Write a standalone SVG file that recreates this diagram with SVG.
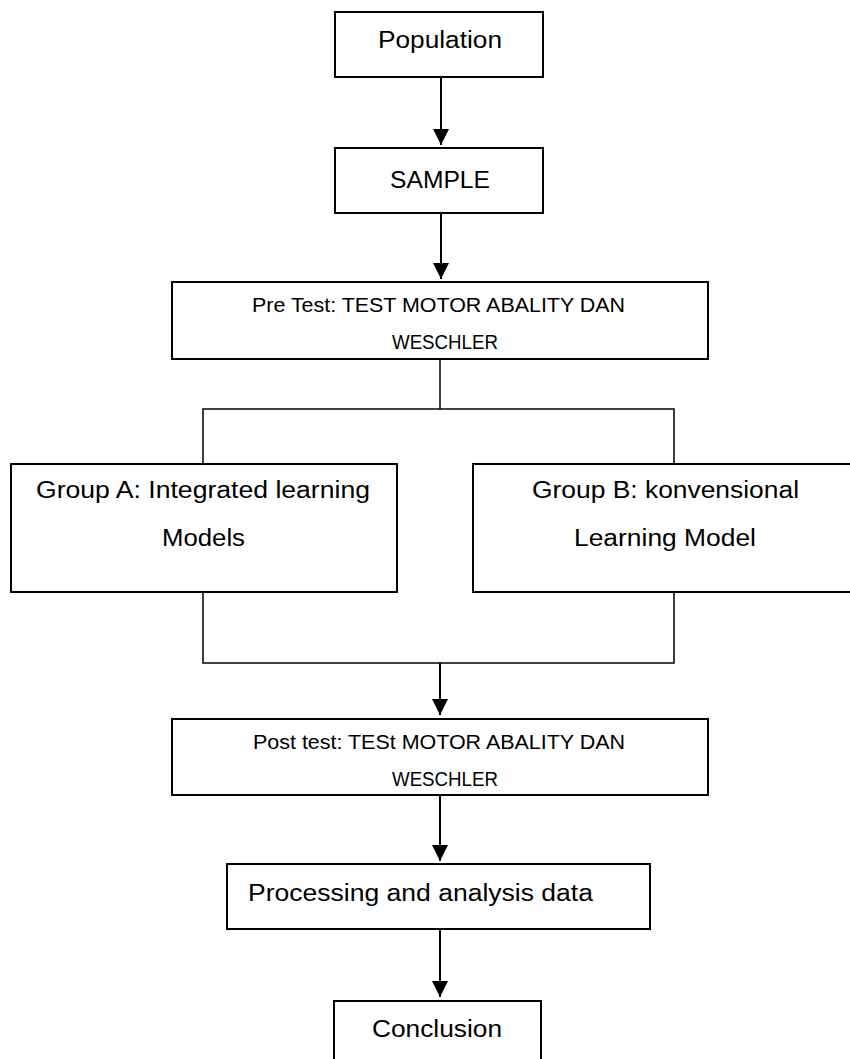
<svg xmlns="http://www.w3.org/2000/svg" width="850" height="1059" viewBox="0 0 850 1059">
  <style>
    .box { fill: #ffffff; stroke: #000000; stroke-width: 2; }
    .lbl { font-family: "Liberation Sans", Arial, sans-serif; fill: #000000; text-anchor: middle; }
    .big { font-size: 23px; }
    .small { font-size: 19.5px; }
    .flow { fill: none; stroke: #000000; stroke-width: 2; }
    .tree { fill: none; stroke: #000000; stroke-width: 1.5; }
  </style>
  <defs>
    <marker id="head" viewBox="0 0 16 16" refX="16" refY="8" markerWidth="16" markerHeight="16" markerUnits="userSpaceOnUse" orient="auto">
      <path d="M0,0 L16,8 L0,16 z" fill="#000000"/>
    </marker>
  </defs>
  <rect width="850" height="1059" fill="#ffffff"/>

  <!-- connectors -->
  <g id="connectors">
    <line class="flow" x1="441" y1="77" x2="441" y2="145" marker-end="url(#head)"/>
    <line class="flow" x1="441" y1="213" x2="441" y2="279" marker-end="url(#head)"/>
    <line class="tree" x1="440" y1="359" x2="440" y2="409"/>
    <polyline class="tree" points="203,463 203,409 674,409 674,463"/>
    <polyline class="tree" points="203,592 203,663 674,663 674,592"/>
    <line class="flow" x1="440" y1="663" x2="440" y2="715" marker-end="url(#head)"/>
    <line class="flow" x1="440" y1="795" x2="440" y2="861" marker-end="url(#head)"/>
    <line class="flow" x1="440" y1="929" x2="440" y2="997" marker-end="url(#head)"/>
  </g>

  <g id="population">
    <rect class="box" x="335" y="12" width="208" height="65"/>
    <text class="lbl big" x="440" y="48" textLength="124" lengthAdjust="spacingAndGlyphs">Population</text>
  </g>

  <g id="sample">
    <rect class="box" x="335" y="148" width="208" height="65"/>
    <text class="lbl big" x="440" y="188" textLength="100" lengthAdjust="spacingAndGlyphs">SAMPLE</text>
  </g>

  <g id="pretest">
    <rect class="box" x="172" y="282" width="536" height="77"/>
    <text class="lbl small" x="438.5" y="312" textLength="373" lengthAdjust="spacingAndGlyphs">Pre Test: TEST MOTOR ABALITY DAN</text>
    <text class="lbl small" x="445" y="349" textLength="106" lengthAdjust="spacingAndGlyphs">WESCHLER</text>
  </g>

  <g id="groupA">
    <rect class="box" x="11" y="464" width="386" height="128"/>
    <text class="lbl big" x="203" y="498" textLength="334" lengthAdjust="spacingAndGlyphs">Group A: Integrated learning</text>
    <text class="lbl big" x="203.5" y="546" textLength="83" lengthAdjust="spacingAndGlyphs">Models</text>
  </g>

  <g id="groupB">
    <rect class="box" x="473" y="464" width="380" height="128"/>
    <text class="lbl big" x="665.5" y="498" textLength="267" lengthAdjust="spacingAndGlyphs">Group B: konvensional</text>
    <text class="lbl big" x="665" y="546" textLength="182" lengthAdjust="spacingAndGlyphs">Learning Model</text>
  </g>

  <g id="posttest">
    <rect class="box" x="172" y="719" width="536" height="76"/>
    <text class="lbl small" x="439" y="749" textLength="372" lengthAdjust="spacingAndGlyphs">Post test: TESt MOTOR ABALITY DAN</text>
    <text class="lbl small" x="445" y="786" textLength="106" lengthAdjust="spacingAndGlyphs">WESCHLER</text>
  </g>

  <g id="processing">
    <rect class="box" x="227" y="864" width="423" height="65"/>
    <text class="lbl big" x="420.5" y="901" textLength="345" lengthAdjust="spacingAndGlyphs">Processing and analysis data</text>
  </g>

  <g id="conclusion">
    <rect class="box" x="334" y="1001" width="207" height="70"/>
    <text class="lbl big" x="437" y="1037" textLength="130" lengthAdjust="spacingAndGlyphs">Conclusion</text>
  </g>
</svg>
